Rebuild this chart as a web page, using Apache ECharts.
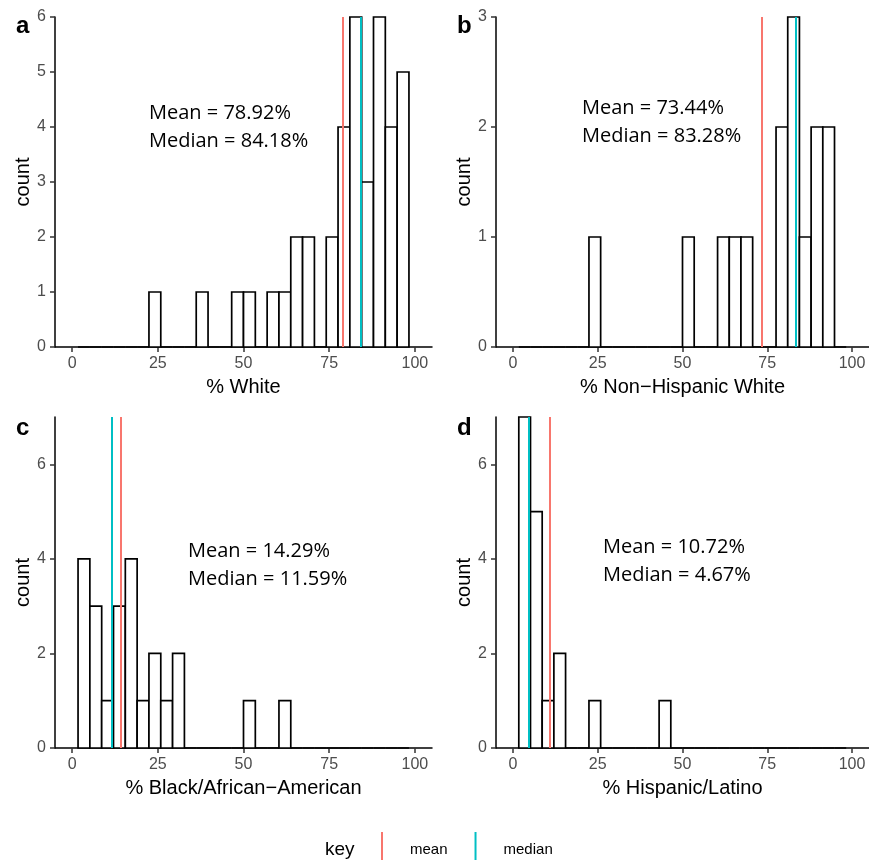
<!DOCTYPE html>
<html>
<head>
<meta charset="utf-8">
<script src="https://cdn.jsdelivr.net/npm/echarts@6/dist/echarts.min.js"></script>
<style>
html,body{margin:0;padding:0;background:#fff;}
#chart{width:869px;height:860px;}
</style>
</head>
<body>
<div id="chart"></div>
<script>
// ---- data (bins 1..28 of a 30-bin histogram over 0..100; outermost bins dropped) ----
var xTicks = [0, 25, 50, 75, 100];
var countsWhite    = [0,0,0,0,0,0,1,0,0,0,1,0,0,1,1,0,1,1,2,2,0,2,4,6,3,6,4,5];
var countsNHWhite  = [0,0,0,0,0,0,1,0,0,0,0,0,0,0,1,0,0,1,1,1,0,0,2,3,1,2,2,0];
var countsBlack    = [4,3,1,3,4,1,2,1,2,0,0,0,0,0,1,0,0,1,0,0,0,0,0,0,0,0,0,0];
var countsHispanic = [7,5,1,2,0,0,1,0,0,0,0,0,1,0,0,0,0,0,0,0,0,0,0,0,0,0,0,0];
var means   = [78.92, 73.44, 14.29, 10.72];
var medians = [84.18, 83.28, 11.59, 4.67];
var xTitles = ['% White', '% Non\u2212Hispanic White', '% Black/African\u2212American', '% Hispanic/Latino'];
var panelLetters = ['a', 'b', 'c', 'd'];
var yMax = [6, 3, 7, 7];
var yTicks = [[0,1,2,3,4,5,6],[0,1,2,3],[0,2,4,6],[0,2,4,6]];
var allCounts = [countsWhite, countsNHWhite, countsBlack, countsHispanic];

var BINS = 30;
var binWidth = 100 / (BINS - 1);

var MEAN_COLOR = '#F8766D';
var MEDIAN_COLOR = '#00BFC4';

var grids = [
  {left: 55,  top: 17,  width: 377, height: 330},
  {left: 496, top: 17,  width: 376, height: 330},
  {left: 55,  top: 417, width: 377, height: 331},
  {left: 496, top: 417, width: 376, height: 331}
];
var annot = [
  {x: 149, y: 114},
  {x: 582, y: 109},
  {x: 188, y: 552},
  {x: 603, y: 548}
];
var letterPos = [
  {x: 16, y: 28}, {x: 457, y: 28}, {x: 16, y: 430}, {x: 457, y: 430}
];

var chart = echarts.init(document.getElementById('chart'), null, {renderer: 'canvas'});

var xAxes = [], yAxes = [], series = [], graphics = [];
for (var i = 0; i < 4; i++) {
  xAxes.push({
    type: 'value', gridIndex: i, min: -5, max: 105,
    name: xTitles[i], nameLocation: 'middle', nameGap: 30,
    nameTextStyle: {fontFamily: 'Liberation Sans', fontSize: 20, color: '#000'},
    axisLine: {show: true, onZero: false, lineStyle: {color: '#000', width: 1.5}},
    axisTick: {show: true, length: 5, lineStyle: {color: '#333', width: 1.5}, customValues: xTicks},
    axisLabel: {fontFamily: 'Liberation Sans', fontSize: 16, color: '#4D4D4D', margin: 9, customValues: xTicks},
    splitLine: {show: false}
  });
  yAxes.push({
    type: 'value', gridIndex: i, min: 0, max: yMax[i],
    name: 'count', nameLocation: 'middle', nameGap: 22, nameRotate: 90,
    nameTextStyle: {fontFamily: 'Liberation Sans', fontSize: 20, color: '#000'},
    axisLine: {show: true, onZero: false, lineStyle: {color: '#000', width: 1.5}},
    axisTick: {show: true, length: 5, lineStyle: {color: '#333', width: 1.5}, customValues: yTicks[i]},
    axisLabel: {fontFamily: 'Liberation Sans', fontSize: 16, color: '#4D4D4D', margin: 9, customValues: yTicks[i]},
    splitLine: {show: false}
  });
  var data = allCounts[i].map(function (c, j) { return [j + 1, c]; });
  series.push({
    type: 'custom', xAxisIndex: i, yAxisIndex: i, silent: true,
    data: data,
    renderItem: function (params, api) {
      var k = api.value(0), c = api.value(1);
      var p0 = api.coord([(k - 0.5) * binWidth, 0]);
      var p1 = api.coord([(k + 0.5) * binWidth, c]);
      return {
        type: 'rect',
        shape: {x: p0[0], y: p1[1], width: p1[0] - p0[0], height: p0[1] - p1[1]},
        style: {fill: '#fff', stroke: '#000', lineWidth: 1.7}
      };
    },
    z: 2
  });
  series.push({
    type: 'line', name: 'mean', xAxisIndex: i, yAxisIndex: i, data: [],
    color: MEAN_COLOR,
    markLine: {silent: true, symbol: 'none', label: {show: false},
      lineStyle: {color: MEAN_COLOR, width: 2, type: 'solid'},
      data: [{xAxis: means[i]}]},
    z: 3
  });
  series.push({
    type: 'line', name: 'median', xAxisIndex: i, yAxisIndex: i, data: [],
    color: MEDIAN_COLOR,
    markLine: {silent: true, symbol: 'none', label: {show: false},
      lineStyle: {color: MEDIAN_COLOR, width: 2, type: 'solid'},
      data: [{xAxis: medians[i]}]},
    z: 3
  });
  graphics.push({
    type: 'text', left: annot[i].x, top: annot[i].y - 14,
    style: {text: 'Mean = ' + means[i].toFixed(2) + '%\nMedian = ' + medians[i].toFixed(2) + '%',
      font: '20px "Open Sans"', fill: '#000', lineHeight: 27.5}
  });
  graphics.push({
    type: 'text', left: letterPos[i].x, top: letterPos[i].y - 14,
    style: {text: panelLetters[i], font: 'bold 24px "Liberation Sans"', fill: '#000'}
  });
}
graphics.push({
  type: 'text', left: 325, top: 840,
  style: {text: 'key', font: '19px "Liberation Sans"', fill: '#000'}
});

chart.setOption({
  animation: false,
  backgroundColor: '#fff',
  grid: grids,
  xAxis: xAxes,
  yAxis: yAxes,
  series: series,
  legend: {
    data: [{name: 'mean', icon: 'rect'}, {name: 'median', icon: 'rect'}],
    left: 381, top: 832, padding: 0, itemWidth: 2, itemHeight: 36, itemGap: 27,
    selectedMode: false,
    textStyle: {fontFamily: 'Liberation Sans', fontSize: 15, color: '#000', padding: [0, 0, 0, 22]}
  },
  graphic: graphics
});
</script>
</body>
</html>
